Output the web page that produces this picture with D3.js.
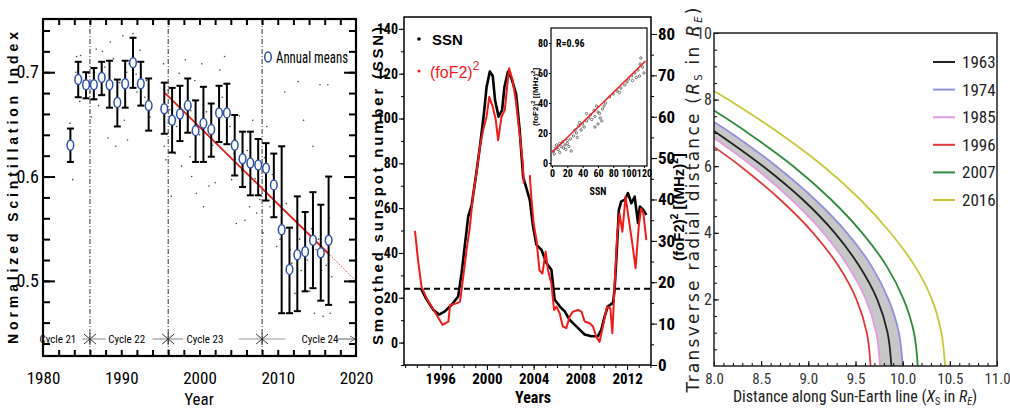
<!DOCTYPE html>
<html>
<head>
<meta charset="utf-8">
<script src="https://cdn.jsdelivr.net/npm/d3@7"></script>
<style>
body { margin: 0; background: #fff; }
svg { display: block; }
</style>
</head>
<body>
<svg id="chart" width="1010" height="415"></svg>
<script>
// ---------- left panel: normalized scintillation index ----------
const scintYears = [1983.5, 1984.5, 1985.5, 1986.5, 1987.5, 1988.5, 1989.5, 1990.5, 1991.5, 1992.5, 1993.5,
    1995.5, 1996.5, 1997.5, 1998.5, 1999.5, 2000.5, 2001.5, 2002.5, 2003.5, 2004.5, 2005.5, 2006.5, 2007.5, 2008.5, 2009.5,
    2010.5, 2011.5, 2012.5, 2013.5, 2014.5, 2015.5, 2016.5];
const scintMean = [0.630, 0.693, 0.688, 0.688, 0.695, 0.688, 0.671, 0.689, 0.709, 0.689, 0.668,
    0.665, 0.654, 0.660, 0.668, 0.644, 0.651, 0.645, 0.661, 0.661, 0.630, 0.617, 0.613, 0.611, 0.608, 0.592,
    0.549, 0.511, 0.525, 0.528, 0.539, 0.527, 0.539];
const scintHigh = [0.646, 0.710, 0.700, 0.704, 0.710, 0.711, 0.693, 0.711, 0.733, 0.710, 0.694,
    0.690, 0.685, 0.687, 0.694, 0.673, 0.686, 0.670, 0.687, 0.689, 0.659, 0.643, 0.643, 0.636, 0.632, 0.622,
    0.629, 0.551, 0.581, 0.566, 0.585, 0.573, 0.600];
const scintLow = [0.614, 0.676, 0.675, 0.674, 0.678, 0.666, 0.648, 0.666, 0.685, 0.668, 0.644,
    0.641, 0.623, 0.634, 0.642, 0.614, 0.614, 0.619, 0.633, 0.631, 0.601, 0.590, 0.582, 0.582, 0.577, 0.561,
    0.469, 0.469, 0.471, 0.490, 0.493, 0.481, 0.477];
const scintDots = [
    [1983.45, 0.651], [1983.8, 0.597], [1984.3, 0.715], [1984.8, 0.716], [1984.7, 0.672], [1985.8, 0.699],
    [1986.0, 0.681], [1986.2, 0.657], [1986.8, 0.722], [1987.1, 0.668], [1987.6, 0.720], [1987.8, 0.679],
    [1988.3, 0.637], [1988.6, 0.729], [1989.0, 0.713], [1989.3, 0.629], [1989.5, 0.661], [1990.2, 0.735],
    [1990.4, 0.654], [1990.8, 0.635], [1991.0, 0.708], [1991.5, 0.737], [1992.0, 0.681], [1992.4, 0.721],
    [1992.8, 0.668], [1993.2, 0.692], [1993.7, 0.657], [1995.4, 0.708], [1995.5, 0.629], [1995.7, 0.616],
    [1996.0, 0.683], [1996.4, 0.581], [1996.9, 0.622], [1997.4, 0.699], [1997.7, 0.610], [1998.2, 0.712],
    [1998.5, 0.654], [1998.8, 0.619], [1999.0, 0.600], [1999.4, 0.692], [1999.6, 0.584], [2000.3, 0.708],
    [2000.5, 0.571], [2001.2, 0.591], [2002.0, 0.594], [2002.6, 0.702], [2003.2, 0.715], [2004.1, 0.597],
    [2004.7, 0.555], [2005.1, 0.658], [2005.8, 0.558], [2006.4, 0.571], [2006.8, 0.654], [2007.3, 0.565],
    [2007.7, 0.578], [2008.1, 0.546], [2008.6, 0.648], [2009.0, 0.571], [2009.85, 0.533], [2010.9, 0.681],
    [2011.1, 0.574], [2011.8, 0.517], [2012.2, 0.488], [2012.6, 0.691], [2013.3, 0.654], [2013.5, 0.504],
    [2014.5, 0.629], [2014.7, 0.469], [2015.4, 0.688], [2015.8, 0.466], [2016.4, 0.688], [2016.7, 0.469],
    [2016.9, 0.504], [2013.0, 0.510], [2014.1, 0.490], [2014.9, 0.530], [2015.6, 0.510], [2016.2, 0.515],
    [1984.2, 0.700], [1985.2, 0.692], [1986.6, 0.700], [1987.9, 0.705], [1988.9, 0.690], [1990.7, 0.700],
    [1991.9, 0.698], [1993.0, 0.676], [1996.2, 0.664], [1997.1, 0.648], [1998.9, 0.663], [2000.0, 0.640],
    [2000.9, 0.662], [2001.7, 0.630], [2002.9, 0.676], [2003.9, 0.648], [2004.4, 0.622], [2005.4, 0.606],
    [2006.1, 0.625], [2007.1, 0.598], [2008.3, 0.618], [2009.3, 0.602], [2010.3, 0.540], [2011.6, 0.530],
    [2012.8, 0.540], [2013.8, 0.520], [2014.3, 0.550], [2015.2, 0.540], [2016.6, 0.560], [1989.8, 0.690]
];
const trendYears = [1995.6, 2016.5, 2020];
const trendVals = [0.680, 0.526, 0.500];
const cycleStarts = [1986, 1996, 2008];
const cycleNames = ['Cycle 21', 'Cycle 22', 'Cycle 23', 'Cycle 24'];
const cycleNameYears = [1981.9, 1990.7, 2000.7, 2015.4];
const cycleSpans = [[1985, 1988], [1994, 1997.9], [2005, 2011]];

// ---------- middle panel: SSN and (foF2)^2 ----------
const ssnYears = [1994.33, 1994.84, 1995.4, 1995.9, 1996.4, 1996.98, 1997.54, 1997.83, 1998.1, 1998.4, 1998.7,
    1999.05, 1999.4, 1999.74, 1999.97, 2000.25, 2000.5, 2000.7, 2001.0, 2001.3, 2001.5, 2001.8, 2002.1, 2002.5,
    2002.8, 2003.1, 2003.67, 2003.95, 2004.24, 2004.67, 2005.1, 2005.52, 2005.8, 2006.23, 2006.66, 2007.08,
    2007.5, 2007.94, 2008.37, 2008.94, 2009.5, 2009.8, 2010.08, 2010.36, 2010.8, 2010.93, 2011.08, 2011.3,
    2011.5, 2011.8, 2012.08, 2012.37, 2012.65, 2012.94, 2013.1, 2013.4, 2013.65];
const ssnVals = [24.4, 19.2, 14.7, 12.5, 13.9, 16.9, 20.6, 31, 42.9, 56.3, 61.5,
    74, 87.4, 102, 114, 121, 119, 108, 100.8, 103.8, 114, 121, 118, 111,
    95, 74, 63.7, 51.8, 43.7, 41.4, 35.5, 32.5, 19.2, 16.2, 13.9, 10.2,
    8, 5.8, 3.6, 2.8, 2.8, 5.8, 11.7, 16.2, 17.7, 23.6, 37, 59.2,
    63, 63.7, 66.7, 62.2, 65.1, 53.3, 60.7, 59.2, 57];
const fof2Years = [1993.84, 1994.1, 1994.4, 1994.84, 1995.27, 1995.7, 1996.2, 1996.7, 1996.85, 1997.4, 1997.7,
    1997.97, 1998.26, 1998.54, 1998.8, 1999.1, 1999.4, 1999.68, 1999.97, 2000.2, 2000.5, 2000.76, 2000.96,
    2001.25, 2001.53, 2001.73, 2001.9, 2002.2, 2002.47, 2002.76, 2003.05, 2003.16, 2003.4,
    2003.67, 2003.8, 2004.0, 2004.24, 2004.5, 2004.75, 2005.03, 2005.23, 2005.52, 2005.75, 2005.95, 2006.23,
    2006.5, 2006.8, 2007.08, 2007.37, 2007.8, 2008.1, 2008.37, 2008.8, 2009.08, 2009.37, 2009.65, 2009.93,
    2010.28, 2010.57, 2010.74, 2010.93, 2011.16, 2011.36, 2011.6, 2011.87, 2012.16, 2012.45, 2012.73, 2013.0,
    2013.2, 2013.4, 2013.65];
const fof2Vals = [32.4, 25.4, 18.9, 16.1, 14.1, 12.1, 9.7, 10.5, 14.5, 14.9, 15.3,
    21.3, 27.8, 33.4, 40.7, 46.3, 52.7, 56.8, 60, 64.8, 62.4, 59.2, 54.3,
    60, 61.6, 67.2, 71.7, 68.8, 64, 56.8, 49.5, 43.9, null,
    45.9, 40.7, 34.2, 30.2, 22.9, 22.1, 27.4, 22.9, 19.7, 13.3, 14.1, 12.5,
    9.3, 8.9, 11.7, 12.9, 13.3, 12.9, 10.5, 10.1, 9.3, 6.8, 5.6, 9.3,
    14.1, 13.7, 7.7, 18.9, 31.8, 36.6, 32.2, 40.7, 35, 29.4, 23.4, 33.4,
    37.8, 36.6, 30.2];
const ssnThreshold = 24;
// inset: (foF2)^2 against SSN
const insetSsn = [2, 3, 5, 6, 8, 10, 12, 14, 15, 17, 18, 20, 22, 25, 28, 30, 32, 35, 36, 38, 40, 42, 45, 48, 50,
    52, 55, 56, 58, 60, 62, 63, 65, 66, 70, 75, 80, 85, 90, 95, 100, 104, 108, 110, 112, 115, 116, 118, 120,
    105, 98, 20, 24, 10, 45, 68, 88, 114, 56, 60, 33];
const insetFof2 = [8, 6, 10, 12, 9, 13, 11, 14, 10, 12, 9, 15, 11, 8, 18, 22, 20, 25, 27, 22, 26, 24, 28, 30, 32,
    29, 35, 31, 38, 34, 33, 30, 28, 36, 40, 44, 46, 48, 50, 52, 56, 58, 60, 57, 62, 66, 70, 64, 60,
    55, 54, 13, 16, 7, 33, 38, 47, 58, 24, 26, 17];
const fitSsn = [0, 122];
const fitFof2 = [7, 68];

// ---------- right panel: magnetopause standoff profiles ----------
const mpYears = ['1963', '1974', '1985', '1996', '2007', '2016'];
const mpColors = ['#222222', '#9090dd', '#e29be2', '#e03a3a', '#2e8b3c', '#c8c83a'];
const mp1963 = [[9.88, 0], [9.84, 1], [9.73, 2], [9.54, 3], [9.28, 4], [8.94, 5], [8.52, 6], [8.0, 7.06]];
const mp1974 = [[10.0, 0], [9.96, 1], [9.85, 2], [9.67, 3], [9.41, 4], [9.07, 5], [8.66, 6], [8.18, 7], [8.0, 7.33]];
const mp1985 = [[9.76, 0], [9.72, 1], [9.61, 2], [9.42, 3], [9.16, 4], [8.82, 5], [8.41, 6], [8.0, 6.85]];
const mp1996 = [[9.66, 0], [9.62, 1], [9.51, 2], [9.32, 3], [9.05, 4], [8.70, 5], [8.28, 6], [8.0, 6.58]];
const mp2007 = [[10.16, 0], [10.12, 1], [10.01, 2], [9.83, 3], [9.57, 4], [9.24, 5], [8.84, 6], [8.36, 7], [8.0, 7.67]];
const mp2016 = [[10.45, 0], [10.41, 1], [10.31, 2], [10.13, 3], [9.87, 4], [9.55, 5], [9.16, 6], [8.69, 7], [8.15, 8], [8.0, 8.26]];
const mpCurves = [mp1963, mp1974, mp1985, mp1996, mp2007, mp2016];

const svg = d3.select('#chart');
const narrow = '"Roboto Condensed", sans-serif';
const sans = '"Liberation Sans", Arial, sans-serif';

function styleAxis(g, font, size, weight) {
    g.select('.domain').remove();
    g.selectAll('line').attr('stroke', '#000');
    g.selectAll('text').attr('fill', '#000')
        .style('font-family', font).style('font-size', size + 'px').style('font-weight', weight || 'normal');
}

// ================= left panel =================
const x1 = d3.scaleLinear().domain([1980, 2020]).range([43, 356]);
const y1 = d3.scaleLinear().domain([0.428, 0.751]).range([356, 19]);
const p1 = svg.append('g');

p1.append('g').selectAll('circle').data(scintDots).join('circle')
    .attr('cx', d => x1(d[0])).attr('cy', d => y1(d[1])).attr('r', 0.8).attr('fill', '#444');

p1.append('g').selectAll('line').data(cycleStarts).join('line')
    .attr('x1', d => x1(d)).attr('x2', d => x1(d)).attr('y1', 19).attr('y2', 356)
    .attr('stroke', '#333').attr('stroke-width', 1).attr('stroke-dasharray', '5,2,1,2');

// cycle strip
const cy = 339;
p1.append('g').selectAll('line').data(cycleSpans).join('line')
    .attr('x1', d => x1(d[0])).attr('x2', d => x1(d[1])).attr('y1', cy).attr('y2', cy)
    .attr('stroke', '#999').attr('stroke-width', 1.2);
cycleStarts.forEach(c => {
    const g = p1.append('g').attr('transform', `translate(${x1(c)},${cy})`);
    [[-6, -5, 6, 5], [-6, 5, 6, -5], [0, -6, 0, 6]].forEach(s =>
        g.append('line').attr('x1', s[0]).attr('y1', s[1]).attr('x2', s[2]).attr('y2', s[3])
            .attr('stroke', '#333').attr('stroke-width', 1));
});
p1.append('g').selectAll('text').data(cycleNames).join('text')
    .attr('x', (d, i) => x1(cycleNameYears[i])).attr('y', cy + 4)
    .attr('text-anchor', 'middle').style('font-family', narrow).style('font-size', '11px')
    .text(d => d);
p1.append('line').attr('x1', x1(2017.5)).attr('x2', x1(2020) - 1).attr('y1', cy).attr('y2', cy)
    .attr('stroke', '#666').attr('stroke-width', 1);
p1.append('path').attr('d', `M${x1(2020) - 6},${cy - 3}L${x1(2020) - 1},${cy}L${x1(2020) - 6},${cy + 3}`)
    .attr('fill', 'none').attr('stroke', '#666');

// trend line
p1.append('line').attr('x1', x1(trendYears[0])).attr('y1', y1(trendVals[0]))
    .attr('x2', x1(trendYears[1])).attr('y2', y1(trendVals[1]))
    .attr('stroke', '#e21e1e').attr('stroke-width', 1.8);
p1.append('line').attr('x1', x1(trendYears[1])).attr('y1', y1(trendVals[1]))
    .attr('x2', x1(trendYears[2])).attr('y2', y1(trendVals[2]))
    .attr('stroke', '#e21e1e').attr('stroke-width', 1).attr('stroke-dasharray', '1,1.5');

// error bars
const bars = p1.append('g').attr('stroke', '#000').attr('stroke-width', 2);
scintYears.forEach((yr, i) => {
    const x = x1(yr);
    bars.append('line').attr('x1', x).attr('x2', x).attr('y1', y1(scintLow[i])).attr('y2', y1(scintHigh[i]));
    bars.append('line').attr('x1', x - 3.5).attr('x2', x + 3.5).attr('y1', y1(scintLow[i])).attr('y2', y1(scintLow[i]));
    bars.append('line').attr('x1', x - 3.5).attr('x2', x + 3.5).attr('y1', y1(scintHigh[i])).attr('y2', y1(scintHigh[i]));
});
p1.append('g').selectAll('ellipse').data(scintYears).join('ellipse')
    .attr('cx', d => x1(d)).attr('cy', (d, i) => y1(scintMean[i]))
    .attr('rx', 3.3).attr('ry', 5).attr('fill', '#fff').attr('stroke', '#2f4fa8').attr('stroke-width', 1.5);

// legend
p1.append('ellipse').attr('cx', 268).attr('cy', 57).attr('rx', 3.3).attr('ry', 5)
    .attr('fill', 'none').attr('stroke', '#2f4fa8').attr('stroke-width', 1.5);
p1.append('text').attr('x', 276).attr('y', 63).attr('textLength', 72).attr('lengthAdjust', 'spacingAndGlyphs')
    .style('font-family', narrow).style('font-size', '16px')
    .text('Annual means');

// axes
const ax1 = [
    [d3.axisLeft(y1).tickValues(d3.range(0.44, 0.75, 0.02)).tickSize(-7).tickFormat(''), 43, 0],
    [d3.axisRight(y1).tickValues(d3.range(0.44, 0.75, 0.02)).tickSize(-7).tickFormat(''), 356, 0],
    [d3.axisRight(y1).tickValues([0.5, 0.6, 0.7]).tickSize(-12).tickFormat(''), 356, 0],
    [d3.axisBottom(x1).tickValues(d3.range(1982, 2020, 2)).tickSize(-6).tickFormat(''), 0, 356],
    [d3.axisTop(x1).tickValues(d3.range(1982, 2020, 2)).tickSize(-6).tickFormat(''), 0, 19]
];
ax1.forEach(a => p1.append('g').attr('transform', `translate(${a[1]},${a[2]})`).call(a[0]).call(styleAxis, narrow, 16));
p1.append('g').attr('transform', 'translate(43,0)')
    .call(d3.axisLeft(y1).tickValues([0.5, 0.6, 0.7]).tickSize(-12).tickPadding(4).tickFormat(d3.format('.1f')))
    .call(styleAxis, narrow, 18);
p1.append('g').attr('transform', 'translate(0,356)')
    .call(d3.axisBottom(x1).tickValues(d3.range(1980, 2021, 10)).tickSize(0).tickPadding(16).tickFormat(d3.format('d')))
    .call(styleAxis, narrow, 17);
p1.selectAll('.tick line').attr('stroke-width', 2);
p1.append('rect').attr('x', 43).attr('y', 19).attr('width', 313).attr('height', 337)
    .attr('fill', 'none').attr('stroke', '#000').attr('stroke-width', 2.2);

p1.append('text').attr('x', 199).attr('y', 405).attr('text-anchor', 'middle')
    .style('font-family', narrow).style('font-size', '17px').text('Year');
p1.append('text').attr('transform', 'translate(18,188) rotate(-90)').attr('text-anchor', 'middle')
    .attr('textLength', 312).attr('lengthAdjust', 'spacing')
    .style('font-family', sans).style('font-size', '14px').style('font-weight', 'bold')
    .text('Normalized  Scintillation  Index');

// ================= middle panel =================
const x2 = d3.scaleLinear().domain([1992.9, 2014.05]).range([404, 651]);
const y2 = d3.scaleLinear().domain([-10, 145.3]).range([365, 17]);
const y2r = d3.scaleLinear().domain([0, 84.1]).range([365, 17]);
const p2 = svg.append('g');

p2.append('line').attr('x1', 404).attr('x2', 651).attr('y1', y2(ssnThreshold)).attr('y2', y2(ssnThreshold))
    .attr('stroke', '#000').attr('stroke-width', 2).attr('stroke-dasharray', '6,4');

const ssnLine = d3.line().x((d, i) => x2(ssnYears[i])).y(d => y2(d));
p2.append('path').attr('d', ssnLine(ssnVals)).attr('fill', 'none')
    .attr('stroke', '#000').attr('stroke-width', 2.6).attr('stroke-linejoin', 'round');
const fofLine = d3.line().defined(d => d !== null).x((d, i) => x2(fof2Years[i])).y(d => y2r(d));
p2.append('path').attr('d', fofLine(fof2Vals)).attr('fill', 'none')
    .attr('stroke', '#f01c1c').attr('stroke-width', 2).attr('stroke-linejoin', 'round');

p2.append('g').attr('transform', 'translate(404,0)')
    .call(d3.axisLeft(y2).tickValues(d3.range(-10, 141, 10)).tickSize(3).tickFormat(''))
    .call(styleAxis, narrow, 14, 'bold');
p2.append('g').attr('transform', 'translate(404,0)')
    .call(d3.axisLeft(y2).tickValues(d3.range(0, 141, 20)).tickSize(5).tickPadding(1))
    .call(styleAxis, narrow, 14, 'bold');
p2.append('g').attr('transform', 'translate(651,0)')
    .call(d3.axisRight(y2r).tickValues(d3.range(0, 84, 5)).tickSize(3).tickFormat(''))
    .call(styleAxis, narrow, 14, 'bold');
p2.append('g').attr('transform', 'translate(651,0)')
    .call(d3.axisRight(y2r).tickValues(d3.range(0, 81, 10)).tickSize(6).tickPadding(1))
    .call(styleAxis, narrow, 17, 'bold');
p2.append('g').attr('transform', 'translate(0,365)')
    .call(d3.axisBottom(x2).tickValues(d3.range(1993, 2015, 1)).tickSize(3).tickFormat(''))
    .call(styleAxis, narrow, 14, 'bold');
p2.append('g').attr('transform', 'translate(0,365)')
    .call(d3.axisBottom(x2).tickValues(d3.range(1996, 2013, 4)).tickSize(5).tickPadding(3).tickFormat(d3.format('d')))
    .call(styleAxis, narrow, 15, 'bold');
p2.append('path').attr('d', 'M404,365V17H651V365H404').attr('fill', 'none').attr('stroke', '#000').attr('stroke-width', 1.5);

p2.append('text').attr('x', 533).attr('y', 403).attr('text-anchor', 'middle')
    .style('font-family', narrow).style('font-size', '16px').style('font-weight', 'bold').text('Years');
p2.append('text').attr('transform', 'translate(383,186) rotate(-90)').attr('text-anchor', 'middle')
    .attr('textLength', 318).attr('lengthAdjust', 'spacing')
    .style('font-family', sans).style('font-size', '15px').style('font-weight', 'bold')
    .text('Smoothed sunspot number (SSN)');
const rl = p2.append('text').attr('transform', 'translate(684,207) rotate(-90)').attr('text-anchor', 'middle')
    .style('font-family', sans).style('font-size', '15px').style('font-weight', 'bold');
rl.append('tspan').text('(foF2)');
rl.append('tspan').attr('dy', -6).style('font-size', '10px').text('2');
rl.append('tspan').attr('dy', 6).text(' [(MHz)');
rl.append('tspan').attr('dy', -6).style('font-size', '10px').text('2');
rl.append('tspan').attr('dy', 6).text(']');

// legend
p2.append('circle').attr('cx', 419).attr('cy', 39).attr('r', 1.8).attr('fill', '#000');
p2.append('text').attr('x', 432).attr('y', 45).style('font-family', sans).style('font-size', '15px')
    .style('font-weight', 'bold').text('SSN');
p2.append('circle').attr('cx', 419).attr('cy', 71).attr('r', 1.5).attr('fill', '#f01c1c');
const lg = p2.append('text').attr('x', 430).attr('y', 78).attr('fill', '#f01c1c')
    .style('font-family', sans).style('font-size', '16px');
lg.append('tspan').text('(foF2)');
lg.append('tspan').attr('dy', -8).style('font-size', '12px').text('2');

// inset
const x3 = d3.scaleLinear().domain([-1.3, 124]).range([551, 647]);
const y3 = d3.scaleLinear().domain([-2, 90]).range([166, 28]);
const p3 = p2.append('g');
p3.append('rect').attr('x', 551).attr('y', 28).attr('width', 96).attr('height', 138)
    .attr('fill', '#fff').attr('stroke', '#000').attr('stroke-width', 1.2);
p3.append('g').selectAll('circle').data(insetSsn).join('circle')
    .attr('cx', d => x3(d)).attr('cy', (d, i) => y3(insetFof2[i])).attr('r', 1.2)
    .attr('fill', 'none').attr('stroke', '#555').attr('stroke-width', 0.8);
p3.append('line').attr('x1', x3(fitSsn[0])).attr('y1', y3(fitFof2[0]))
    .attr('x2', x3(fitSsn[1])).attr('y2', y3(fitFof2[1]))
    .attr('stroke', '#ee2020').attr('stroke-width', 1.5);
p3.append('g').attr('transform', 'translate(0,166)')
    .call(d3.axisBottom(x3).tickValues(d3.range(0, 121, 20)).tickSize(2).tickPadding(2))
    .call(styleAxis, narrow, 10, 'bold');
p3.append('g').attr('transform', 'translate(551,0)')
    .call(d3.axisLeft(y3).tickValues(d3.range(0, 81, 20)).tickSize(2).tickPadding(1))
    .call(styleAxis, narrow, 10, 'bold');
p3.append('text').attr('x', 556).attr('y', 47).style('font-family', narrow).style('font-size', '10px')
    .style('font-weight', 'bold').text('R=0.96');
p3.append('text').attr('x', 598).attr('y', 195).attr('text-anchor', 'middle').style('font-family', narrow)
    .style('font-size', '10px').style('font-weight', 'bold').text('SSN');
const il = p3.append('text').attr('transform', 'translate(538,97) rotate(-90)').attr('text-anchor', 'middle')
    .style('font-family', sans).style('font-size', '8px').style('font-weight', 'bold');
il.append('tspan').text('(foF2)');
il.append('tspan').attr('dy', -3).style('font-size', '6px').text('2');
il.append('tspan').attr('dy', 3).text(' [(MHz)');
il.append('tspan').attr('dy', -3).style('font-size', '6px').text('2');
il.append('tspan').attr('dy', 3).text(']');

// ================= right panel =================
const x4 = d3.scaleLinear().domain([8, 11]).range([714, 997]);
const y4 = d3.scaleLinear().domain([0, 10]).range([366, 33]);
const p4 = svg.append('g');
const mpLine = d3.line().x(d => x4(d[0])).y(d => y4(d[1])).curve(d3.curveCatmullRom);

p4.append('path')
    .attr('d', mpLine(mp1974) + mpLine(mp1985.slice().reverse()).replace(/^M/, 'L') + 'Z')
    .attr('fill', '#bdbdbd').attr('opacity', 0.85);
p4.append('g').selectAll('path').data(mpCurves).join('path')
    .attr('d', mpLine).attr('fill', 'none')
    .attr('stroke', (d, i) => mpColors[i]).attr('stroke-width', 1.8);

p4.append('g').attr('transform', 'translate(0,366)')
    .call(d3.axisBottom(x4).tickValues(d3.range(8, 11.01, 0.1)).tickSize(-3).tickFormat(''))
    .call(styleAxis, narrow, 14);
p4.append('g').attr('transform', 'translate(0,366)')
    .call(d3.axisBottom(x4).tickValues(d3.range(8, 11.01, 0.5)).tickSize(-5).tickPadding(7).tickFormat(d3.format('.1f')))
    .call(styleAxis, narrow, 15);
p4.append('g').attr('transform', 'translate(714,0)')
    .call(d3.axisLeft(y4).tickValues(d3.range(0.5, 10, 0.5)).tickSize(-3).tickFormat(''))
    .call(styleAxis, narrow, 14);
p4.append('g').attr('transform', 'translate(714,0)')
    .call(d3.axisLeft(y4).tickValues([2, 4, 6, 8, 10]).tickSize(-5).tickPadding(2).tickFormat(d3.format('d')))
    .call(styleAxis, narrow, 16);
p4.selectAll('.tick text').attr('fill', '#333');
p4.append('rect').attr('x', 714).attr('y', 33).attr('width', 283).attr('height', 333)
    .attr('fill', 'none').attr('stroke', '#222').attr('stroke-width', 1.5);

const leg = p4.append('g');
mpYears.forEach((yr, i) => {
    const ly = 62 + i * 27.6;
    leg.append('line').attr('x1', 933).attr('x2', 955).attr('y1', ly).attr('y2', ly)
        .attr('stroke', mpColors[i]).attr('stroke-width', 2);
    leg.append('text').attr('x', 962).attr('y', ly + 6).style('font-family', narrow).style('font-size', '17px')
        .attr('fill', '#222').text(yr);
});

const xl = p4.append('text').attr('x', 855).attr('y', 402).attr('text-anchor', 'middle')
    .style('font-family', narrow).style('font-size', '16px').attr('fill', '#222');
xl.append('tspan').text('Distance along Sun-Earth line (');
xl.append('tspan').style('font-style', 'italic').text('X');
xl.append('tspan').attr('dy', 3).style('font-size', '10px').text('S');
xl.append('tspan').attr('dy', -3).text(' in ');
xl.append('tspan').style('font-style', 'italic').text('R');
xl.append('tspan').attr('dy', 3).style('font-size', '10px').style('font-style', 'italic').text('E');
xl.append('tspan').attr('dy', -3).text(')');

const yl = p4.append('text').attr('transform', 'translate(699,200) rotate(-90)').attr('text-anchor', 'middle')
    .attr('textLength', 385).attr('lengthAdjust', 'spacing')
    .style('font-family', '"DejaVu Sans", sans-serif').style('font-size', '17px').attr('fill', '#222');
yl.append('tspan').text('Transverse radial distance (');
yl.append('tspan').style('font-style', 'italic').text('R');
yl.append('tspan').attr('dy', 3).style('font-size', '10px').text('S');
yl.append('tspan').attr('dy', -3).text(' in ');
yl.append('tspan').style('font-style', 'italic').text('R');
yl.append('tspan').attr('dy', 3).style('font-size', '10px').style('font-style', 'italic').text('E');
yl.append('tspan').attr('dy', -3).text(')');
</script>
</body>
</html>
